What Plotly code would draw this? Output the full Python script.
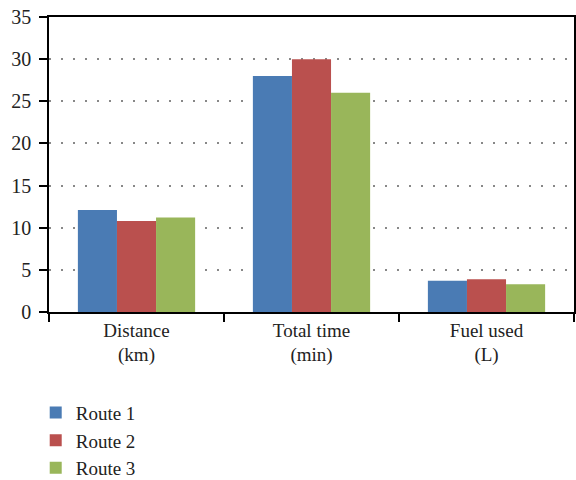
import plotly.graph_objects as go

categories = ["Distance<br>(km)", "Total time<br>(min)", "Fuel used<br>(L)"]
route_names = ["Route 1", "Route 2", "Route 3"]
route1 = [12.1, 28.0, 3.7]
route2 = [10.8, 30.0, 3.9]
route3 = [11.2, 26.0, 3.3]
colors = ["#4A7BB4", "#BA504E", "#99B65A"]
y_ticks = [0, 5, 10, 15, 20, 25, 30, 35]

FONT = "Liberation Serif, DejaVu Serif, serif"

fig = go.Figure()
for name, vals, col in zip(route_names, [route1, route2, route3], colors):
    fig.add_trace(go.Bar(x=categories, y=vals, name=name,
                         marker=dict(color=col, line=dict(width=0))))

fig.update_layout(
    width=576, height=480,
    margin=dict(l=49, r=2, t=17, b=168, autoexpand=False),
    paper_bgcolor="white", plot_bgcolor="white",
    barmode="group", bargap=0.33, bargroupgap=0,
    font=dict(family=FONT, size=20, color="#222"),
    showlegend=True,
    legend=dict(x=0.062, xref="container", xanchor="left",
                y=0.18, yref="container", yanchor="top",
                font=dict(family=FONT, size=19, color="#222"),
                bgcolor="rgba(0,0,0,0)", tracegroupgap=0),
)
fig.update_xaxes(
    showline=True, linecolor="black", linewidth=1.5, mirror=True,
    ticks="outside", tickson="boundaries", ticklen=8, tickcolor="black",
    tickwidth=1.5, showgrid=False,
    tickfont=dict(family=FONT, size=19, color="#222"),
)
fig.update_yaxes(
    range=[0, 35], tickvals=y_ticks,
    showline=True, linecolor="black", linewidth=1.5, mirror=True,
    ticks="outside", ticklen=8, tickcolor="black", tickwidth=1.5,
    ticklabelstandoff=4,
    showgrid=True, gridcolor="#888", gridwidth=1.5, griddash="2px,10px",
    zeroline=False,
    tickfont=dict(family=FONT, size=20, color="#222"),
)

fig.write_html("out.html")
